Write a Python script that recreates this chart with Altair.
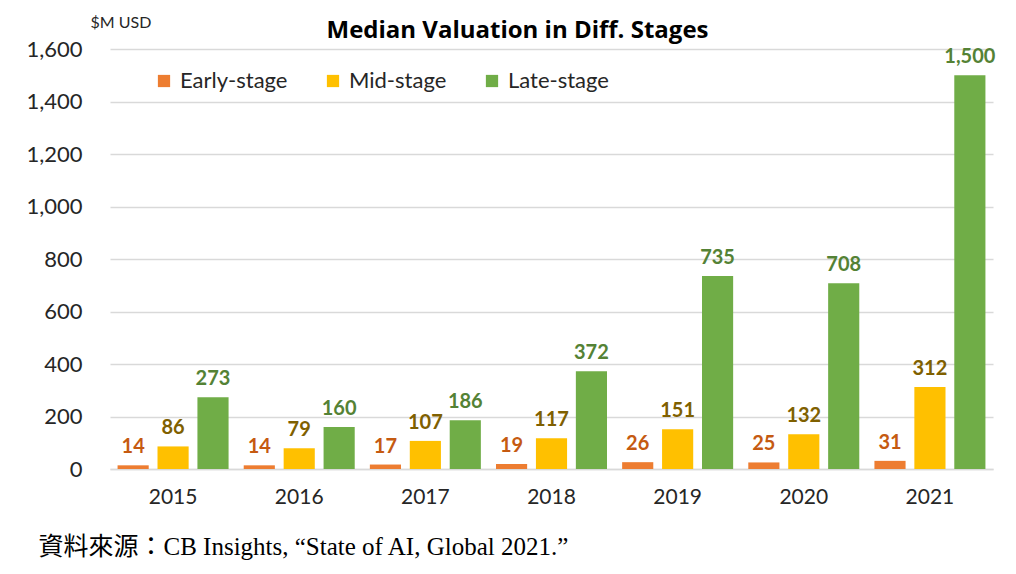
import altair as alt
import pandas as pd

years = ["2015", "2016", "2017", "2018", "2019", "2020", "2021"]
stages = ["Early-stage", "Mid-stage", "Late-stage"]
early = [14, 14, 17, 19, 26, 25, 31]
mid = [86, 79, 107, 117, 151, 132, 312]
late = [273, 160, 186, 372, 735, 708, 1500]
bar_colors = ["#ED7D31", "#FFC000", "#70AD47"]
label_colors = ["#C55A11", "#7F6000", "#548235"]
y_ticks = [0, 200, 400, 600, 800, 1000, 1200, 1400, 1600]

rows = []
for i, y in enumerate(years):
    for s, vals in zip(stages, [early, mid, late]):
        rows.append({"year": y, "stage": s, "value": vals[i]})
df = pd.DataFrame(rows)

FONT = "Lato"

x_enc = alt.X(
    "year:N",
    sort=years,
    scale=alt.Scale(paddingInner=0.12, paddingOuter=0.06),
    axis=alt.Axis(
        title="資料來源：CB Insights, “State of AI, Global 2021.”",
        titleFont="Liberation Serif, Noto Sans CJK TC",
        titleFontSize=25,
        titleFontWeight="normal",
        titleColor="#000000",
        titleAnchor="start",
        titleAlign="left",
        titleBaseline="middle",
        titleX=-72,
        titleY=77,
        labelAngle=0,
        labelFont=FONT,
        labelFontSize=21,
        labelColor="#262626",
        labelPadding=17,
        ticks=False,
        domainColor="#D9D9D9",
        domainWidth=1.5,
    ),
)
xoff = alt.XOffset("stage:N", sort=stages, scale=alt.Scale(paddingInner=0.22, paddingOuter=0))
y_enc = alt.Y(
    "value:Q",
    scale=alt.Scale(domain=[0, 1600], nice=False),
    axis=alt.Axis(
        values=y_ticks,
        format=",.0f",
        title="$M USD",
        titleAngle=0,
        titleAlign="left",
        titleBaseline="middle",
        titleX=-20,
        titleY=-27,
        titleFont=FONT,
        titleFontSize=16,
        titleFontWeight="normal",
        titleColor="#262626",
        labelFont=FONT,
        labelFontSize=22,
        labelColor="#262626",
        labelPadding=28,
        ticks=False,
        domain=False,
        gridColor="#D9D9D9",
        gridWidth=1.5,
    ),
)

bars = alt.Chart(df).mark_bar().encode(
    x=x_enc,
    xOffset=xoff,
    y=y_enc,
    color=alt.Color(
        "stage:N",
        sort=stages,
        scale=alt.Scale(domain=stages, range=bar_colors),
        legend=alt.Legend(
            title=None,
            orient="none",
            legendX=43,
            legendY=21,
            direction="horizontal",
            symbolType="square",
            symbolSize=150,
            symbolStrokeWidth=0,
            labelFont=FONT,
            labelFontSize=22,
            labelColor="#262626",
            labelOffset=5,
            columnPadding=34,
        ),
    ),
)

labels = alt.Chart(df).mark_text(
    baseline="bottom", dy=-8, font=FONT, fontSize=20, fontWeight="bold"
).encode(
    x=alt.X("year:N", sort=years),
    xOffset=alt.XOffset("stage:N", sort=stages),
    y=alt.Y("value:Q"),
    text=alt.Text("value:Q", format=","),
    color=alt.Color("stage:N", scale=alt.Scale(domain=stages, range=label_colors), legend=None),
)

chart = (
    alt.layer(bars, labels)
    .resolve_scale(color="independent")
    .properties(
        width=883,
        height=420,
        autosize=alt.AutoSizeParams(type="none"),
        padding={"left": 102, "top": 41, "right": 15, "bottom": 104},
        title=alt.TitleParams(
            "Median Valuation in Diff. Stages",
            font="Open Sans",
            fontSize=24,
            fontWeight="bold",
            color="#000000",
            anchor="middle",
            dx=-34,
            dy=35,
            offset=6,
        ),
    )
    .configure_view(stroke=None)
)

chart.save("out.html", embed_options={"renderer": "svg", "actions": False})
